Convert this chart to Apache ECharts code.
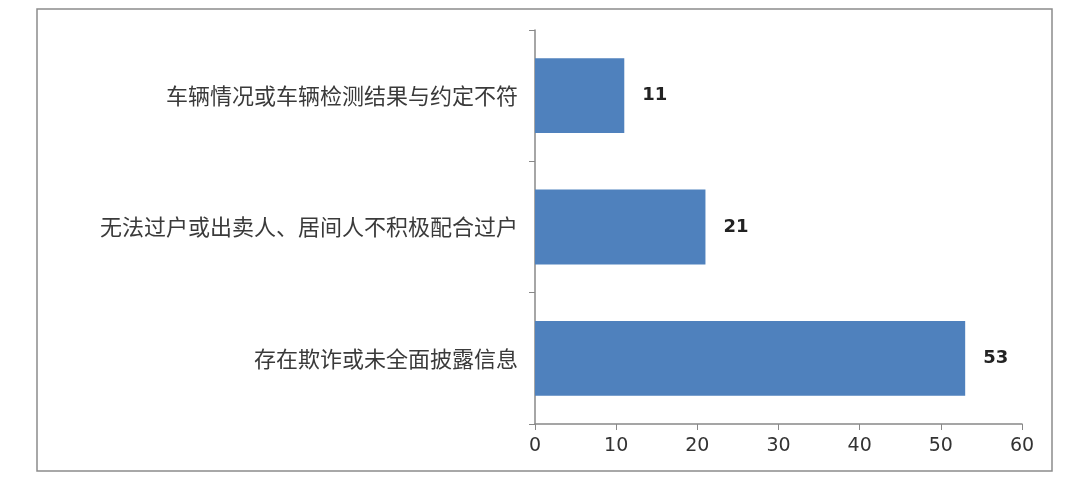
<!DOCTYPE html>
<html>
<head>
<meta charset="utf-8">
<script src="https://cdn.jsdelivr.net/npm/echarts@6/dist/echarts.min.js"></script>
<style>
html, body { margin: 0; padding: 0; background: #fff; }
#main { width: 1080px; height: 484px; }
</style>
</head>
<body>
<div id="main"></div>
<script>
// 类别（自下而上）
var categories = ['存在欺诈或未全面披露信息', '无法过户或出卖人、居间人不积极配合过户', '车辆情况或车辆检测结果与约定不符'];
var counts = [53, 21, 11];
var xTicks = [0, 10, 20, 30, 40, 50, 60];

var myChart = echarts.init(document.getElementById('main'));
var option = {
    backgroundColor: '#fff',
    animation: false,
    graphic: [{
        type: 'rect',
        shape: { x: 37, y: 9, width: 1015, height: 462 },
        style: { fill: 'none', stroke: '#8c8c8c', lineWidth: 1.5 },
        z: 0
    }],
    grid: { left: 535, right: 58, top: 30, bottom: 60 },
    xAxis: {
        type: 'value',
        min: xTicks[0],
        max: xTicks[xTicks.length - 1],
        interval: 10,
        splitLine: { show: false },
        axisLine: { show: true, lineStyle: { color: '#888', width: 1.5 } },
        axisTick: { show: true, length: 6, lineStyle: { color: '#888' } },
        axisLabel: { color: '#333', fontFamily: 'DejaVu Sans', fontSize: 19, margin: 13 }
    },
    yAxis: {
        type: 'category',
        data: categories,
        axisLine: { show: true, lineStyle: { color: '#888', width: 1.5 } },
        axisTick: { show: true, length: 6, lineStyle: { color: '#888' } },
        axisLabel: { color: '#3a3a3a', fontFamily: 'Noto Sans CJK SC', fontSize: 22, margin: 17 }
    },
    series: [{
        type: 'bar',
        data: counts,
        barCategoryGap: '43%',
        itemStyle: { color: '#4f81bd' },
        label: {
            show: true,
            position: 'right',
            distance: 18,
            color: '#222',
            fontFamily: 'DejaVu Sans',
            fontWeight: 'bold',
            fontSize: 18
        }
    }]
};
myChart.setOption(option);
</script>
</body>
</html>
